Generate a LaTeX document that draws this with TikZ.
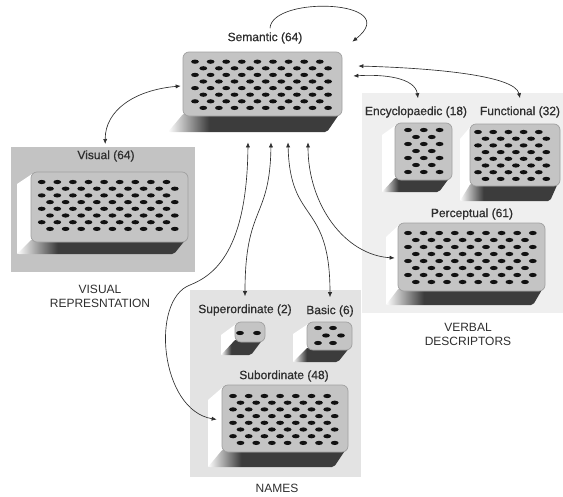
\documentclass[tikz,border=0pt]{standalone}
\usepackage{fontspec}
\setmainfont{Liberation Sans}
\newfontfamily\lblfont{Liberation Sans}[FakeBold=0.6]
\usetikzlibrary{arrows.meta,calc}

\definecolor{boxdark}{HTML}{3C3C3C}
\definecolor{facegrey}{HTML}{C4C4C4}
\definecolor{faceedge}{HTML}{A0A0A0}
\definecolor{inkgrey}{HTML}{2E2E2E}
\definecolor{dotink}{HTML}{111111}
\definecolor{panelmid}{HTML}{C3C3C3}
\definecolor{panellight}{HTML}{EFEFEF}
\definecolor{panelnames}{HTML}{E3E3E3}

% underside of a block: white at the left edge, dark after a short ramp
\pgfdeclarehorizontalshading{botshade}{100bp}{color(0bp)=(white); color(25bp)=(white); color(37bp)=(boxdark); color(100bp)=(boxdark)}

\tikzset{
  frontface/.style={draw=faceedge, fill=facegrey, rounded corners=6pt, line width=0.7pt, inner sep=0pt},
  panel/.style={draw=none, inner sep=0pt, anchor=north west},
  lbl/.style={font=\lblfont\fontsize{12}{14}\selectfont, text=inkgrey, inner sep=1pt},
  caption/.style={font=\fontsize{12}{13.5}\selectfont, text=inkgrey, align=center, inner sep=1pt},
  conn/.style={draw=inkgrey, line width=0.65pt},
  tip/.tip={Latex[length=5pt,width=4.2pt]},
}

% extruded block: name, left, top, right, bottom, depth x, depth y
\newcommand\extbox[7]{%
  \fill[white] (#2+1,#3+2) -- (#2-#6,#3+#7) -- (#2-#6,#5+#7) -- (#2+1,#5) -- cycle;
  \shade[shading=botshade, rounded corners=2] (#2-#6,#5+#7) -- (#2+1,#5-3) -- (#4-2,#5-3) -- (#4-#6,#5+#7) -- cycle;
  \node[frontface, minimum width={#4-#2}, minimum height={#5-#3}] (#1) at ({(#2+#4)/2},{(#3+#5)/2}) {};
}

% staggered grid of holes: first x, first y, column step, row step,
% rows, holes in odd rows, holes in even rows, shift of even rows
\newcommand\dotgrid[8]{%
  \foreach \dotrow in {1,...,#5}{%
    \pgfmathsetmacro\dotY{#2+(\dotrow-1)*#4}%
    \ifodd\dotrow
      \foreach \dotcol in {1,...,#6}{\fill[dotink] ({#1+(\dotcol-1)*#3},\dotY) ellipse[x radius=3.9,y radius=2.1];}%
    \else
      \foreach \dotcol in {1,...,#7}{\fill[dotink] ({#1+#8+(\dotcol-1)*#3},\dotY) ellipse[x radius=3.9,y radius=2.1];}%
    \fi
  }%
}

\begin{document}
\begin{tikzpicture}[x=1pt,y=-1pt]
\useasboundingbox (0,0) rectangle (563,496);

% group panels
\node[panel, fill=panelmid, minimum width=184, minimum height=125] (vispanel) at (11,147) {};
\node[panel, fill=panellight, minimum width=203, minimum height=220] (verbpanel) at (362,93) {};
\node[panel, fill=panelnames, minimum width=171, minimum height=187] (namepanel) at (190,290) {};

% blocks
\extbox{sem}{183}{52}{342}{116}{15}{16}
\dotgrid{195}{61.7}{15.6}{6.6}{8}{9}{9}{8.3}

\extbox{vis}{31}{172}{188}{242}{14}{12}
\dotgrid{41.7}{182}{15.6}{6.7}{8}{9}{9}{8.3}

\extbox{enc}{395}{123}{452}{180}{13}{12}
\dotgrid{408}{130}{15.8}{7}{7}{3}{2}{8}

\extbox{fun}{470}{124}{560}{186}{10}{15}
\dotgrid{478}{132}{15.2}{6.7}{8}{5}{5}{7.5}

\extbox{per}{398}{223}{545}{291}{12}{14}
\dotgrid{408}{233}{15.6}{7}{8}{9}{8}{7.8}

\extbox{sup}{235}{322}{265}{342}{14}{13}
\dotgrid{240}{333}{17}{7}{1}{2}{2}{0}

\extbox{bas}{307}{322}{352}{350}{14}{12}
\dotgrid{318}{328}{15}{7.5}{3}{2}{2}{8}

\extbox{sub}{222}{385}{348}{452}{14}{15}
\dotgrid{233}{396}{15.7}{6.7}{8}{7}{7}{7.5}

% block labels
\node[lbl] (semlbl) at (265,38) {Semantic (64)};
\node[lbl] (vislbl) at (106,156) {Visual (64)};
\node[lbl] (enclbl) at (416,112) {Encyclopaedic (18)};
\node[lbl] (funlbl) at (520,112) {Functional (32)};
\node[lbl] (perlbl) at (472,214) {Perceptual (61)};
\node[lbl] (suplbl) at (245,310) {Superordinate (2)};
\node[lbl] (baslbl) at (330,311) {Basic (6)};
\node[lbl] (sublbl) at (284,376) {Subordinate (48)};

% group captions
\node[caption] (viscap) at (100,296.5) {VISUAL\\REPRESNTATION};
\node[caption] (verbcap) at (468,334.5) {VERBAL\\DESCRIPTORS};
\node[caption] (namecap) at (277,488.5) {NAMES};

% connections
\draw[conn,-tip] ($(semlbl.north)+(5,-3)$) .. controls (272,-5) and (405,0) .. ($(sem.north east)+(10,-10)$);
\draw[conn,tip-tip] ($(sem.west)+(-2,2)$) .. controls (135,90) and (105,110) .. ($(vispanel.north)+(2,-3)$);
\draw[conn,tip-tip] ($(sem.east)+(16,-18)$) .. controls (430,68) and (515,75) .. ($(funlbl.north)+(0,-7)$);
\draw[conn,tip-tip] ($(sem.east)+(11,-8)$) .. controls (385,74) and (415,78) .. ($(enclbl.north)+(2,-7)$);
\draw[conn,tip-tip] ($(sem.south)+(45.5,26)$) .. controls (308,205) and (345,255) .. ($(per.west)+(-3,1)$);
\draw[conn,tip-tip] ($(sem.south)+(25.5,26)$) .. controls (290,225) and (330,200) .. ($(baslbl.north)+(0,-7)$);
\draw[conn,tip-tip] ($(sem.south)+(8.5,26)$) .. controls (270,220) and (245,205) .. ($(suplbl.north)+(0,-7)$);
\coordinate (subbend) at (190,285);
\draw[conn,tip-tip] ($(sem.south)+(-14.5,26)$) .. controls (247,250) and (215,275) .. (subbend)
  .. controls (150,300) and (160,410) .. ($(sub.west)+(-5,1)$);
\end{tikzpicture}
\end{document}
